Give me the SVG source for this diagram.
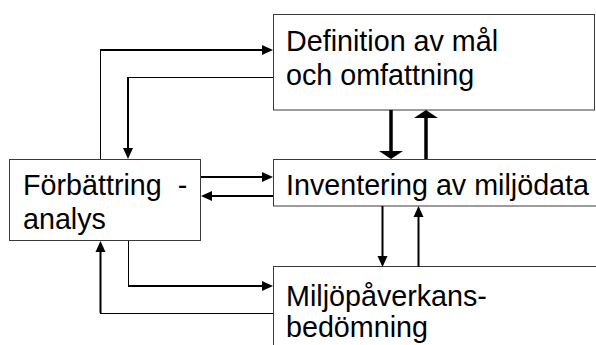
<svg xmlns="http://www.w3.org/2000/svg" width="596" height="345" viewBox="0 0 596 345">
  <style>
    .box { fill: #ffffff; stroke: #3a3a3a; stroke-width: 1; }
    .lbl { font-family: "Liberation Sans", Arial, sans-serif; font-size: 28.7px; fill: #000000; }
    .thin { fill: none; stroke: #000000; stroke-width: 1; }
    .mid { fill: none; stroke: #000000; stroke-width: 2; }
    .thick { fill: none; stroke: #000000; stroke-width: 3.5; }
  </style>
  <defs>
    <marker id="ah" markerUnits="userSpaceOnUse" viewBox="0 -5 11 10" refX="0" refY="0" markerWidth="11" markerHeight="10" orient="auto" overflow="visible">
      <path d="M0,-5 L11,0 L0,5 Z" fill="#000000"/>
    </marker>
    <marker id="ahBig" markerUnits="userSpaceOnUse" viewBox="0 -12 8 24" refX="0" refY="0" markerWidth="8" markerHeight="24" orient="auto" overflow="visible">
      <path d="M0,-12 L8,0 L0,12 Z" fill="#000000"/>
    </marker>
  </defs>

  <rect width="596" height="345" fill="#ffffff"/>

  <g id="definition">
    <rect class="box" x="273.5" y="14.5" width="321" height="95.5"/>
    <text class="lbl" x="286" y="51">Definition av mål</text>
    <text class="lbl" x="286" y="85">och omfattning</text>
  </g>

  <g id="inventering">
    <rect class="box" x="273.5" y="159.5" width="330" height="46.5"/>
    <text class="lbl" x="286" y="195">Inventering av miljödata</text>
  </g>

  <g id="miljopaverkan">
    <rect class="box" x="273.5" y="266.5" width="330" height="90"/>
    <text class="lbl" x="286" y="306">Miljöpåverkans-</text>
    <text class="lbl" x="286" y="337">bedömning</text>
  </g>

  <g id="forbattring">
    <rect class="box" x="9.5" y="159.5" width="191" height="81"/>
    <text class="lbl" x="23" y="195">Förbättring &#160;-</text>
    <text class="lbl" x="23" y="229">analys</text>
  </g>

  <g id="connectors">
    <!-- improvement -> goal definition -->
    <path class="thin" d="M100.5,159 V50"/>
    <path class="mid" d="M100,50 H262" marker-end="url(#ah)"/>
    <!-- goal definition -> improvement -->
    <path class="thin" d="M273,77.5 H128"/>
    <path class="mid" d="M128,77 V148" marker-end="url(#ah)"/>
    <!-- improvement <-> inventory -->
    <path class="mid" d="M201,177 H262" marker-end="url(#ah)"/>
    <path class="mid" d="M273,196 H212" marker-end="url(#ah)"/>
    <!-- improvement -> impact assessment -->
    <path class="thin" d="M128.5,241 V286"/>
    <path class="mid" d="M128,286 H262" marker-end="url(#ah)"/>
    <!-- impact assessment -> improvement -->
    <path class="thin" d="M273,313.5 H100"/>
    <path class="mid" d="M100.5,313 V252" marker-end="url(#ah)"/>
    <!-- goal definition <-> inventory -->
    <path class="thick" d="M391,110 V151" marker-end="url(#ahBig)"/>
    <path class="thick" d="M426,159 V118" marker-end="url(#ahBig)"/>
    <!-- inventory <-> impact assessment -->
    <path class="mid" d="M382.5,206 V256" marker-end="url(#ah)"/>
    <path class="mid" d="M418.5,267 V217" marker-end="url(#ah)"/>
  </g>
</svg>
